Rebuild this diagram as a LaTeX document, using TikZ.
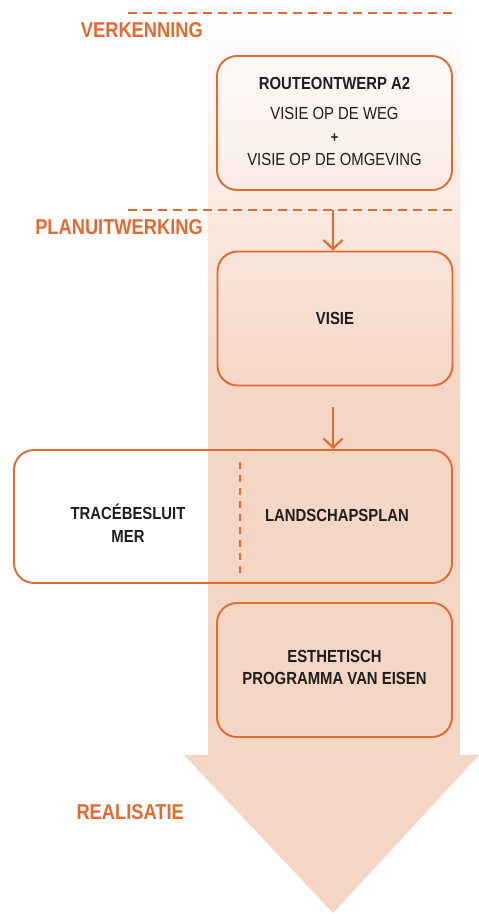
\documentclass[tikz,border=0pt]{standalone}
\usepackage{fontspec}
\setmainfont{Liberation Sans}[FakeStretch=0.85]
\usetikzlibrary{arrows.meta}
\definecolor{org}{HTML}{E2692F}
\definecolor{pale}{HTML}{F5D5C4}
\definecolor{txt}{HTML}{1E1E1E}
\tikzset{
  phase/.style={font=\fontsize{21.5}{24}\selectfont\bfseries, text=org, anchor=east, inner sep=0pt},
  stagebox/.style={draw=org, line width=1.9pt, rounded corners=20pt, minimum width=235pt, minimum height=134pt, text=txt, align=center, inner sep=0pt},
  boxtxt/.style={font=\fontsize{17.5}{23}\selectfont, text=txt, align=center, inner sep=0pt},
  sep/.style={draw=org, line width=2pt, dash pattern=on 8.5pt off 6.5pt},
  flow/.style={draw=org, line width=2.2pt, -{Straight Barb[length=9pt,width=19pt,line width=2.2pt]}},
}
\begin{document}
\begin{tikzpicture}[x=1pt,y=-1pt]
\useasboundingbox (0,0) rectangle (479,914);
% big arrow
\fill[pale] (208,13) -- (460,13) -- (460,755) -- (479,755) -- (333,913) -- (184,755) -- (208,755) -- cycle;
\shade[top color=white, bottom color=pale] (208,13) rectangle (460,400);
% phase separators
\draw[sep] (128,13) -- (456,13);
\draw[sep] (128,210) -- (456,210);
% phase labels
\node[phase] (verk) at (203,30) {VERKENNING};
\node[phase] (plan) at (203,227) {PLANUITWERKING};
\node[phase] (real) at (184,812) {REALISATIE};
% boxes
\node[stagebox] (route) at (334.5,123) {};
\node[boxtxt] (routetxt) at (334.5,121.5) {\bfseries ROUTEONTWERP A2\\[7pt] VISIE OP DE WEG\\ {\bfseries\fontsize{15}{16}\selectfont +}\\[-0.5pt] VISIE OP DE OMGEVING};
\node[stagebox] (visie) at (335,318.5) {};
\node[boxtxt, font=\fontsize{17.5}{23}\selectfont\bfseries] (visietxt) at (335,318) {VISIE};
\node[stagebox, minimum width=438pt, minimum height=133pt] (land) at (233,516.5) {};
\node[boxtxt, font=\fontsize{17.5}{23}\selectfont\bfseries] (trace) at (128,523) {TRACÉBESLUIT\\ MER};
\node[boxtxt, font=\fontsize{17.5}{23}\selectfont\bfseries] (landtxt) at (337,515) {LANDSCHAPSPLAN};
\coordinate (d1) at (240,462);
\coordinate (d2) at (240,574);
\draw[org, line width=1.9pt, dash pattern=on 7pt off 6pt] (d1) -- (d2);
\node[stagebox] (esth) at (334.5,670) {};
\node[boxtxt, font=\fontsize{17.5}{22}\selectfont\bfseries] (esthtxt) at (334.5,667.5) {ESTHETISCH\\ PROGRAMMA VAN EISEN};
% flow arrows
\coordinate (a1) at (333,210);
\draw[flow] (a1) -- (a1 |- visie.north);
\coordinate (a2) at (333,407);
\draw[flow] (a2) -- (a2 |- land.north);
\end{tikzpicture}
\end{document}
